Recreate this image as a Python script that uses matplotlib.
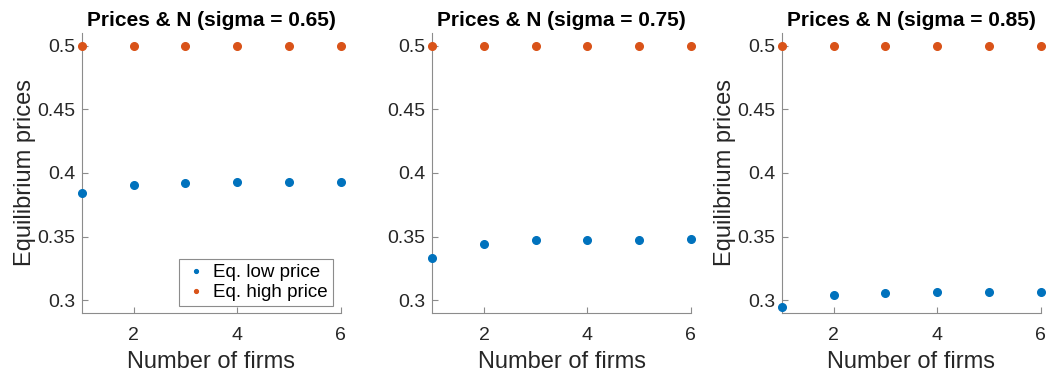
import matplotlib
matplotlib.use("Agg")
import matplotlib.pyplot as plt

plt.rcParams.update({
    'font.family': ['Liberation Sans', 'DejaVu Sans'],
    'axes.edgecolor': '#8c8c8c',
    'xtick.color': '#8c8c8c',
    'ytick.color': '#8c8c8c',
    'xtick.labelcolor': '#262626',
    'ytick.labelcolor': '#262626',
    'axes.labelcolor': '#262626',
})

firms = [1, 2, 3, 4, 5, 6]
sigmas = ['0.65', '0.75', '0.85']
low_price = [
    [0.3843, 0.3903, 0.3917, 0.3925, 0.3926, 0.3929],
    [0.3333, 0.3443, 0.3469, 0.3474, 0.3475, 0.3477],
    [0.2943, 0.3043, 0.3058, 0.3061, 0.3061, 0.3062],
]
high_price = [
    [0.5, 0.5, 0.5, 0.5, 0.5, 0.5],
    [0.5, 0.5, 0.5, 0.5, 0.5, 0.5],
    [0.5, 0.5, 0.5, 0.5, 0.5, 0.5],
]
yticks = [0.3, 0.35, 0.4, 0.45, 0.5]
ytick_labels = ['0.3', '0.35', '0.4', '0.45', '0.5']

blue = '#0072BD'
orange = '#D95319'

fig = plt.figure(figsize=(10.53, 3.77), dpi=100)
lefts = [0.0779, 0.4105, 0.7427]

for i, sig in enumerate(sigmas):
    ax = fig.add_axes([lefts[i], 0.170, 0.2455, 0.743])
    ax.plot(firms, low_price[i], 'o', color=blue, markersize=5.5,
            linestyle='none', label='Eq. low price', clip_on=False, zorder=3)
    ax.plot(firms, high_price[i], 'o', color=orange, markersize=5.5,
            linestyle='none', label='Eq. high price', clip_on=False, zorder=3)
    ax.set_xlim(1, 6)
    ax.set_ylim(0.29, 0.51)
    ax.set_xticks([2, 4, 6])
    ax.set_yticks(yticks)
    ax.set_yticklabels(ytick_labels)
    ax.tick_params(direction='in', length=4, labelsize=14, width=0.8)
    ax.tick_params(axis='x', pad=10)
    ax.tick_params(axis='y', pad=5)
    ax.spines['top'].set_visible(False)
    ax.spines['right'].set_visible(False)
    ax.set_title(f'Prices & N (sigma = {sig})', fontsize=15, fontweight='bold',
                 color='black', pad=5)
    ax.set_xlabel('Number of firms', fontsize=17, labelpad=5)
    if i != 1:
        ax.set_ylabel('Equilibrium prices', fontsize=17, labelpad=1)
    if i == 0:
        leg = ax.legend(loc='lower right', fontsize=13.5, markerscale=0.5,
                        handletextpad=0.3, handlelength=1.3, borderpad=0.25,
                        labelspacing=0.15, fancybox=False, framealpha=1,
                        borderaxespad=0, bbox_to_anchor=(0.97, 0.025))
        leg.get_frame().set_edgecolor('#8c8c8c')
        leg.get_frame().set_linewidth(0.8)

fig.savefig('out.png', dpi=100)
